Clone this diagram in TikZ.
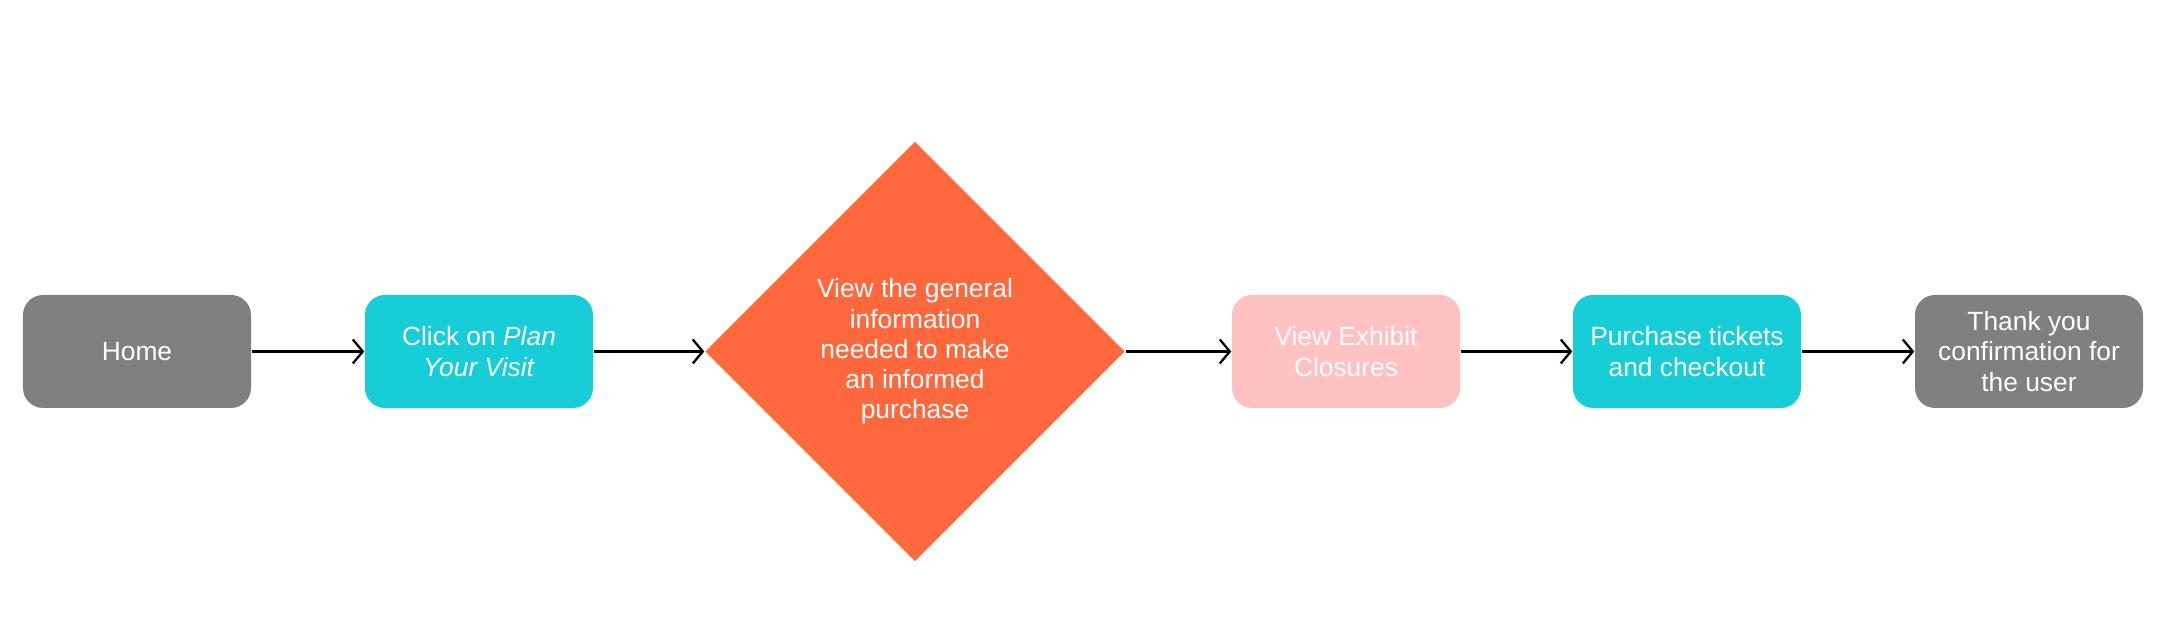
\documentclass[tikz,border=0pt]{standalone}
\usepackage{fontspec}
\setmainfont{Liberation Sans}
\usepackage{tikz}
\usetikzlibrary{positioning,arrows.meta,shapes.geometric}
\definecolor{stepgray}{RGB}{128,128,128}
\definecolor{visitcyan}{RGB}{22,205,216}
\definecolor{infoorange}{RGB}{255,103,61}
\definecolor{closurepink}{RGB}{255,193,193}

\tikzset{
  stepbox/.style={rectangle, rounded corners=0.2cm, minimum width=2.28cm, minimum height=1.13cm,
    inner sep=0pt, text=white, align=center, font=\fontsize{7.5}{8.6}\selectfont},
  flow/.style={-{Straight Barb[length=1mm, width=2.4mm]}, line width=0.65pt, black}
}

\begin{document}
\begin{tikzpicture}
  \useasboundingbox (0,0) rectangle (21.64,6.22);
  \node[stepbox, fill=stepgray] (home) at (1.37,2.705) {Home};
  \node[stepbox, fill=visitcyan] (plan) at (4.79,2.705) {Click on \textit{Plan}\\\textit{Your Visit}};
  \node[diamond, fill=infoorange, minimum width=4.2cm, minimum height=4.2cm, inner sep=0pt,
        text=white, align=center, font=\fontsize{7.5}{8.6}\selectfont] (info) at (9.15,2.705)
        {View the general\\information\\needed to make\\an informed\\purchase};
  \node[stepbox, fill=closurepink] (closures) at (13.46,2.705) {View Exhibit\\Closures};
  \node[stepbox, fill=visitcyan] (tickets) at (16.87,2.705) {Purchase tickets\\and checkout};
  \node[stepbox, fill=stepgray] (thanks) at (20.29,2.705) {Thank you\\confirmation for\\the user};

  \draw[flow] (home) -- (plan);
  \draw[flow] (plan) -- (info);
  \draw[flow] (info) -- (closures);
  \draw[flow] (closures) -- (tickets);
  \draw[flow] (tickets) -- (thanks);
\end{tikzpicture}
\end{document}
